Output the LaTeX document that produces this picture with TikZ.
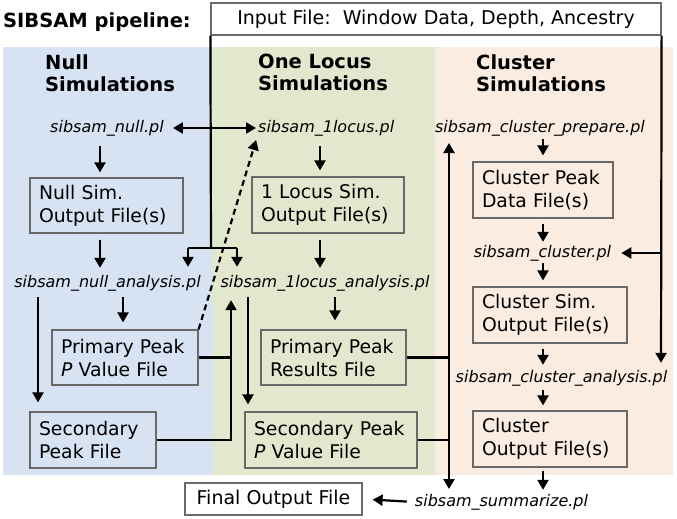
\documentclass[tikz,border=0pt]{standalone}
\usepackage{fontspec}
\setmainfont{DejaVu Sans}
\usetikzlibrary{arrows.meta}
\definecolor{nullbg}{RGB}{215,226,243}
\definecolor{locbg}{RGB}{226,232,206}
\definecolor{clubg}{RGB}{250,236,225}
\definecolor{boxline}{RGB}{105,105,105}
\begin{document}
\begin{tikzpicture}[x=1pt,y=-1pt,
  fbox/.style={draw=boxline, line width=1.2pt, inner xsep=9pt, inner ysep=0pt,
    align=left, font=\fontsize{18.8}{23}\selectfont, anchor=center},
  script/.style={font=\fontsize{16}{19}\selectfont\itshape, inner sep=1pt},
  head/.style={font=\fontsize{19.5}{22}\selectfont\bfseries, align=left, anchor=north west, inner sep=0pt},
  link/.style={line width=2.2pt},
  tip/.tip={Triangle[length=10pt,width=11pt]},
  arr/.style={link, -tip},
  darr/.style={link, tip-tip},
]
\useasboundingbox (0,0) rectangle (677,519);
% panels
\fill[nullbg] (3,47) rectangle (212,475);
\fill[locbg] (212,47) rectangle (435,475);
\fill[clubg] (435,47) rectangle (673,475);

% title & input
\node[font=\fontsize{19.5}{22}\selectfont\bfseries, anchor=base west, inner sep=0pt] (title) at (3,28) {SIBSAM pipeline:};
\node[draw=boxline, fill=white, line width=1.2pt, minimum width=450pt, minimum height=32pt, inner sep=0pt,
  font=\fontsize{19}{23}\selectfont] (input) at (436,19) {Input File:\ \ Window Data, Depth, Ancestry};

% headers
\node[head] (h1) at (45,54) {Null\\Simulations};
\node[head] (h2) at (258,54) {One Locus\\Simulations};
\node[head] (h3) at (476,54) {Cluster\\Simulations};

% script nodes
\node[script] (null) at (107,128) {sibsam\_null.pl};
\node[script, anchor=west] (locus) at (257,128) {sibsam\_1locus.pl};
\node[script] (nullan) at (107.5,283) {sibsam\_null\_analysis.pl};
\node[script] (locan) at (325,283) {sibsam\_1locus\_analysis.pl};
\node[script] (cprep) at (540,128) {sibsam\_cluster\_prepare.pl};
\node[script] (clus) at (542.5,253) {sibsam\_cluster.pl};
\node[script] (clan) at (561.5,378) {sibsam\_cluster\_analysis.pl};
\node[script] (summ) at (501.5,502) {sibsam\_summarize.pl};

% boxes
\node[fbox, text width=135pt, minimum height=55pt] (nullsim) at (106.5,205.5) {Null Sim.\\Output File(s)};
\node[fbox, text width=128pt, minimum height=55pt] (ppnull) at (125,357.5) {Primary Peak\\\textit{P} Value File};
\node[fbox, text width=108pt, minimum height=56pt] (secnull) at (93,440) {Secondary\\Peak File};
\node[fbox, text width=134pt, minimum height=56pt] (locsim) at (328,205) {1 Locus Sim.\\Output File(s)};
\node[fbox, text width=127pt, minimum height=55pt] (pplocus) at (333.5,357.5) {Primary Peak\\Results File};
\node[fbox, text width=154pt, minimum height=56pt] (seclocus) at (331,440) {Secondary Peak\\\textit{P} Value File};
\node[fbox, text width=122pt, minimum height=56pt] (cpeak) at (543,190) {Cluster Peak\\Data File(s)};
\node[fbox, text width=136pt, minimum height=56pt] (csim) at (550,315) {Cluster Sim.\\Output File(s)};
\node[fbox, text width=136pt, minimum height=56pt] (cout) at (550,439) {Cluster\\Output File(s)};
\node[draw=boxline, fill=white, line width=1.2pt, minimum width=177pt, minimum height=32pt, inner sep=0pt,
  font=\fontsize{19}{23}\selectfont] (final) at (273.5,499) {Final Output File};

% helper coordinates
\coordinate (xa) at (100,0);
\coordinate (xb) at (123,0);
\coordinate (xc) at (38,0);
\coordinate (xd) at (320,0);
\coordinate (xe) at (335,0);
\coordinate (xf) at (248,0);
\coordinate (xg) at (231,0);
\coordinate (xh) at (449,0);
\coordinate (xi) at (543,0);
\coordinate (xj) at (188,0);
\coordinate (xk) at (237,0);
\coordinate (jn) at (211,248);
\coordinate (jr) at (661,253);
\coordinate (vtop) at (449,143);
\coordinate (vbot) at (449,489);

% input branches
\draw[link] (input.south west) -- (jn);
\draw[link] (jn -| xj) -- (jn -| xk);
\draw[arr, shorten >=7pt] (jn -| xj) -- (nullan.north -| xj);
\draw[arr, shorten >=7pt] (jn -| xk) -- (locan.north -| xk);
\draw[arr, shorten >=6pt] (input.south east) -- (clan.north -| jr);
\draw[arr, shorten >=9pt] (jr) -- (clus.east);

% null column
\draw[darr, shorten <=8pt, shorten >=1pt] (null.east) -- (locus.west);
\draw[arr, shorten <=9pt, shorten >=5pt] (null.south -| xa) -- (nullsim.north -| xa);
\draw[arr, shorten <=6pt, shorten >=6pt] (nullsim.south -| xa) -- (nullan.north -| xa);
\draw[arr, shorten <=5pt, shorten >=7pt] (nullan.south -| xb) -- (ppnull.north -| xb);
\draw[arr, shorten <=5pt, shorten >=9pt] (nullan.south -| xc) -- (secnull.north -| xc);

% locus column
\draw[arr, shorten <=9pt, shorten >=6pt] (locus.south -| xd) -- (locsim.north -| xd);
\draw[arr, shorten <=6pt, shorten >=6pt] (locsim.south -| xd) -- (locan.north -| xd);
\draw[arr, shorten <=5pt, shorten >=9pt] (locan.south -| xe) -- (pplocus.north -| xe);
\draw[arr, shorten <=5pt, shorten >=7pt] (locan.south -| xf) -- (seclocus.north -| xf);

% feedback into locus analysis
\draw[link] (ppnull.east) -- (ppnull.east -| xg);
\draw[arr, shorten >=8pt] (secnull.east) -- (secnull.east -| xg) -- (locan.south -| xg);
\draw[link, dash pattern=on 6pt off 4pt, -tip, shorten >=3pt] (ppnull.north east) -- (locus.south west);

% locus results to cluster / summarize
\draw[link] (pplocus.east) -- (pplocus.east -| xh);
\draw[link] (seclocus.east) -- (seclocus.east -| xh);
\draw[darr] (vtop) -- (vbot);

% cluster column
\draw[arr, shorten <=2pt, shorten >=6pt] (cprep.south -| xi) -- (cpeak.north -| xi);
\draw[arr, shorten <=5pt, shorten >=2pt] (cpeak.south -| xi) -- (clus.north -| xi);
\draw[arr, shorten <=1pt, shorten >=6pt] (clus.south -| xi) -- (csim.north -| xi);
\draw[arr, shorten <=5pt, shorten >=4pt] (csim.south -| xi) -- (clan.north -| xi);
\draw[arr, shorten <=3pt, shorten >=5pt] (clan.south -| xi) -- (cout.north -| xi);
\draw[arr, shorten <=3pt, shorten >=3pt] (cout.south -| xi) -- (summ.north -| xi);
\draw[arr, shorten <=7pt, shorten >=10pt] (summ.west) -- (final.east);
\end{tikzpicture}
\end{document}
